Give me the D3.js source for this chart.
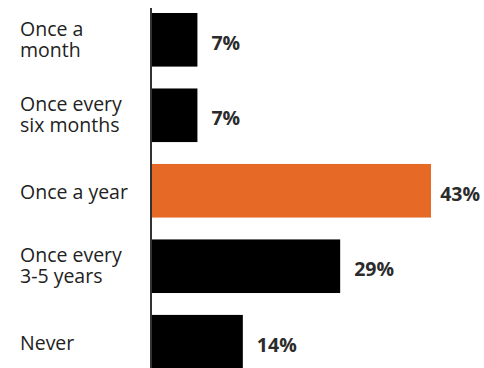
<!DOCTYPE html>
<html>
<head>
<meta charset="utf-8">
<script src="https://cdn.jsdelivr.net/npm/d3@7"></script>
<style>
  html, body { margin: 0; padding: 0; background: #fff; }
  svg { display: block; }
</style>
</head>
<body>
<svg id="chart" width="484" height="368"></svg>
<script>
// How often respondents do it
const categories = ["Once a month", "Once every six months", "Once a year", "Once every 3-5 years", "Never"];
const labelLines = [["Once a", "month"], ["Once every", "six months"], ["Once a year"], ["Once every", "3-5 years"], ["Never"]];
const values = [7, 7, 43, 29, 14];
const highlight = "Once a year";

const width = 484, height = 368;
const svg = d3.select("#chart");

const x = d3.scaleLinear().domain([0, 43]).range([152, 431]);
const y = d3.scaleBand().domain(categories).range([13, 368.5]).paddingInner(0.29).paddingOuter(0);

const rows = categories.map((c, i) => ({ cat: c, lines: labelLines[i], value: values[i] }));
const mid = d => y(d.cat) + y.bandwidth() / 2;

// bars
svg.append("g").selectAll("rect").data(rows).join("rect")
  .attr("x", x(0))
  .attr("y", d => y(d.cat))
  .attr("width", d => x(d.value) - x(0))
  .attr("height", y.bandwidth())
  .attr("fill", d => d.cat === highlight ? "#e66a25" : "#000");

// vertical baseline
svg.append("line")
  .attr("x1", 151).attr("x2", 151)
  .attr("y1", 8).attr("y2", height)
  .attr("stroke", "#333").attr("stroke-width", 2);

// category labels
const lineH = 21;
const cat = svg.append("g").selectAll("text").data(rows).join("text")
  .attr("x", 20)
  .attr("font-family", "'Open Sans', sans-serif")
  .attr("font-size", 19.5)
  .attr("fill", "#222")
  .attr("y", d => d.lines.length > 1 ? mid(d) - 4 : mid(d) + 8);
cat.selectAll("tspan").data(d => d.lines).join("tspan")
  .attr("x", 20)
  .attr("dy", (d, i) => i === 0 ? 0 : lineH)
  .text(d => d);

// value labels, kept inside the right edge
svg.append("g").selectAll("text").data(rows).join("text")
  .attr("y", d => mid(d) + 10)
  .attr("font-family", "'Open Sans', sans-serif")
  .attr("font-weight", 700)
  .attr("font-size", 19.5)
  .attr("fill", "#2b2b2b")
  .text(d => d.value + "%")
  .attr("x", function(d) {
    const w = this.getComputedTextLength();
    return Math.min(x(d.value) + 14, width - 4 - w);
  });
</script>
</body>
</html>
